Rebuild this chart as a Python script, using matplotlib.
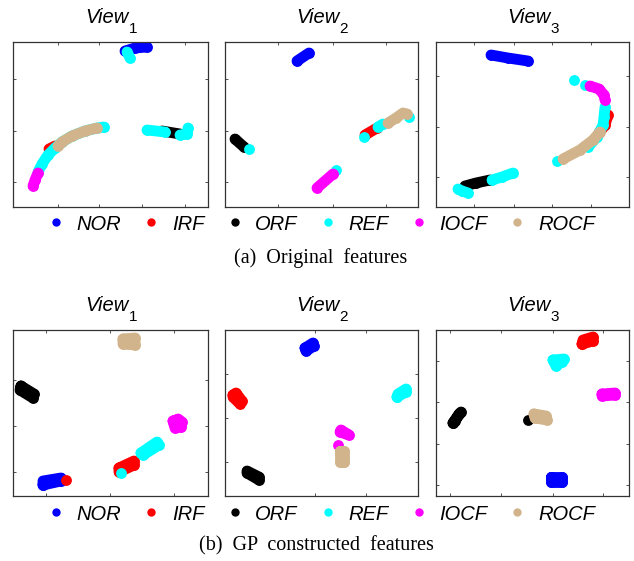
import numpy as np
import matplotlib
matplotlib.use('Agg')
import matplotlib.pyplot as plt
from matplotlib.lines import Line2D

plt.rcParams['font.family'] = ['Liberation Sans', 'DejaVu Sans']

# ---------------- data ----------------
classes = ['NOR', 'IRF', 'ORF', 'REF', 'IOCF', 'ROCF']
colors = ['#0000FF', '#FF0000', '#000000', '#00FFFF', '#FF00FF', '#D2B48C']
view_names = ['View', 'View', 'View']
view_subs = ['1', '2', '3']
captions = ['(a)  Original  features', '(b)  GP  constructed  features']

# embedding traces per class (each entry: list of point chains)
a1 = {
    'NOR':  [[(112, 156), (122, 159), (134, 160)]],
    'IRF':  [[(36, 58), (42, 61)]],
    'ORF':  [[(149, 76), (167, 73)]],
    'REF':  [[(25, 35), (29, 43), (35, 52), (42, 59), (49, 65), (59, 71), (72, 76), (84, 79), (91, 80)],
             [(114, 155), (117, 149)],
             [(134, 77), (152, 75)],
             [(167, 72), (174, 73), (175, 79)]],
    'IOCF': [[(20, 21), (22, 27), (25, 34)]],
    'ROCF': [[(45, 61), (49, 65), (59, 71), (72, 76), (84, 79)]],
}
a2 = {
    'NOR':  [[(72, 146), (84, 154)]],
    'IRF':  [[(140, 72), (152, 79)]],
    'ORF':  [[(10, 68), (19, 60)]],
    'REF':  [[(24, 58)], [(139, 70)], [(153, 80), (158, 83)], [(184, 90)], [(111, 37)]],
    'IOCF': [[(92, 19), (108, 33)]],
    'ROCF': [[(163, 84), (171, 89), (178, 94), (182, 93)]],
}
a3 = {
    'NOR':  [[(55, 152), (72, 149), (92, 146)]],
    'IRF':  [[(172, 92), (169, 82), (163, 74)]],
    'ORF':  [[(29, 21), (40, 24), (54, 27)]],
    'REF':  [[(138, 127)], [(149, 122)],
             [(169, 100), (168, 90), (167, 82), (161, 70), (152, 60)],
             [(121, 46)],
             [(22, 18), (26, 16), (32, 14)],
             [(56, 27), (66, 30), (77, 34)]],
    'IOCF': [[(154, 121), (163, 118), (168, 112), (169, 107)]],
    'ROCF': [[(127, 48), (144, 57), (157, 67), (164, 75)]],
}
b1 = {
    'NOR':  [[(30, 11), (48, 15), (48, 18), (30, 15), (30, 11)]],
    'IRF':  [[(106, 28), (121, 35), (121, 31), (106, 24), (106, 28)], [(53, 16)]],
    'ORF':  [[(8, 110), (21, 102), (20, 98), (7, 106), (8, 110)]],
    'REF':  [[(128, 43), (144, 54), (146, 51), (130, 41), (128, 43)], [(108, 23)]],
    'IOCF': [[(160, 75), (165, 77), (169, 74), (168, 69), (162, 68), (160, 75)]],
    'ROCF': [[(110, 157), (122, 158), (122, 151), (110, 152), (110, 157)]],
}
b2 = {
    'NOR':  [[(80, 148), (88, 153), (89, 150), (81, 145), (80, 148)]],
    'IRF':  [[(8, 101), (11, 103), (17, 95), (15, 92), (8, 99), (8, 101)]],
    'ORF':  [[(22, 23), (34, 16), (34, 19), (22, 25)]],
    'REF':  [[(172, 99), (173, 102), (181, 107), (181, 104), (172, 99)]],
    'IOCF': [[(115, 64), (124, 61), (116, 66)], [(113, 51)]],
    'ROCF': [[(115, 45), (119, 45), (119, 34), (115, 34), (115, 45)]],
}
b3 = {
    'NOR':  [[(115, 19), (126, 19), (126, 14), (115, 14), (115, 19)]],
    'IRF':  [[(146, 152), (147, 156), (157, 159), (157, 155), (146, 152)]],
    'ORF':  [[(17, 73), (19, 75), (25, 84), (23, 82), (17, 73)], [(92, 76)]],
    'REF':  [[(117, 136), (128, 137), (126, 134), (120, 130), (117, 136)]],
    'IOCF': [[(166, 102), (179, 103), (179, 101), (166, 100), (166, 102)]],
    'ROCF': [[(98, 82), (110, 80), (111, 76), (99, 78), (98, 82)]],
}
panels = [a1, a2, a3, b1, b2, b3]

x_limits = [(0, 195), (0, 193), (0, 193), (0, 195), (0, 193), (0, 193)]
y_limits = [(0, 165), (0, 165), (0, 165), (0, 166), (0, 166), (0, 166)]
x_ticks = [[45, 86, 129, 172], [53, 108, 161], [38, 78, 116, 155],
           [33, 97, 161], [90, 141], [14, 65, 117, 167]]
y_ticks = [[25, 76, 128], [25, 76, 128], [30, 80, 131],
           [24, 70, 116], [34, 78, 122], [11, 52, 94, 135]]

# ---------------- layout ----------------
W, H = 634, 561
fig = plt.figure(figsize=(W / 100, H / 100), dpi=100)

col_left = [13, 225, 436]
col_width = [195, 193, 193]
row_top = [42, 330]
row_height = [165, 166]

LW = 7.8
SPINE = '#333333'

for i, pdata in enumerate(panels):
    r, c = divmod(i, 3)
    ax = fig.add_axes([col_left[c] / W, 1 - (row_top[r] + row_height[r]) / H,
                       col_width[c] / W, row_height[r] / H])
    for cls, col in zip(classes, colors):
        for seg in pdata.get(cls, []):
            xs = [p[0] for p in seg]
            ys = [p[1] for p in seg]
            ax.plot(xs, ys, '-', marker='o', color=col, lw=LW, ms=LW, mew=0,
                    solid_capstyle='round', solid_joinstyle='round')
    ax.set_xlim(*x_limits[i])
    ax.set_ylim(*y_limits[i])
    ax.set_xticks(x_ticks[i])
    ax.set_yticks(y_ticks[i])
    ax.tick_params(direction='in', length=2.5, width=0.6, color=SPINE,
                   top=True, right=True, labelbottom=False, labelleft=False)
    for s in ax.spines.values():
        s.set_color(SPINE)
        s.set_linewidth(0.9)
    # title: italic "View" with a dropped upright subscript
    ax.annotate(view_names[c], xy=(0.5, 1), xycoords='axes fraction',
                xytext=(12.8, 13.7), textcoords='offset points',
                ha='right', va='baseline', fontsize=14.5, fontstyle='italic')
    ax.annotate(view_subs[c], xy=(0.5, 1), xycoords='axes fraction',
                xytext=(13.0, 6.5), textcoords='offset points',
                ha='left', va='baseline', fontsize=11)

handles = [Line2D([], [], ls='none', marker='o', color=col, ms=6.0, mew=0) for col in colors]
for y in [1 - 224 / H, 1 - 514 / H]:
    fig.legend(handles, classes, loc='center', bbox_to_anchor=(0.507, y), ncol=6,
               frameon=False, prop=dict(family='Liberation Sans', style='italic', size=14.5),
               handlelength=0.8, handletextpad=0.63, columnspacing=1.09,
               borderaxespad=0, borderpad=0)

fig.text(321 / W, 1 - 258 / H, captions[0], ha='center', va='center',
         family='Liberation Serif', fontsize=14.5)
fig.text(316 / W, 1 - 546 / H, captions[1], ha='center', va='center',
         family='Liberation Serif', fontsize=14.5)

fig.savefig('out.png', dpi=100)
